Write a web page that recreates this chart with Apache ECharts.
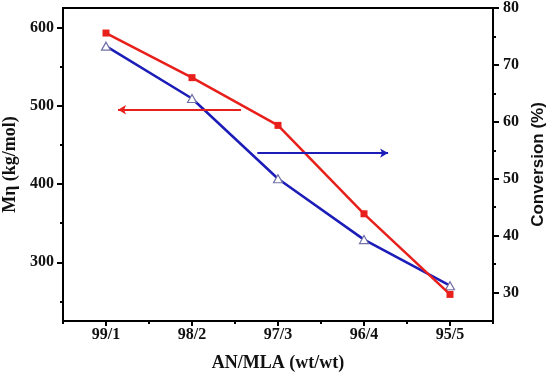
<!DOCTYPE html>
<html>
<head>
<meta charset="utf-8">
<script src="https://cdn.jsdelivr.net/npm/echarts@6/dist/echarts.min.js"></script>
<style>html,body{margin:0;padding:0;background:#fff;}#chart{width:550px;height:373px;}</style>
</head>
<body>
<div id="chart"></div>
<script>
// ---- data ----
const categories = ['99/1', '98/2', '97/3', '96/4', '95/5'];
const mnValues = [593, 536, 475, 362, 259];          // Mη (kg/mol), left axis
const conversionValues = [73.3, 64.1, 50.0, 39.3, 31.2]; // Conversion (%), right axis
const leftTicks = [300, 400, 500, 600];
const leftMinorTicks = [250, 350, 450, 550];
const rightTicks = [30, 40, 50, 60, 70, 80];
const rightMinorTicks = [35, 45, 55, 65, 75];
// annotation arrows (x in category units 1..5, y in axis units)
const mnArrow = { y: 495, fromX: 2.57, toX: 1.14 };
const convArrow = { y: 54.5, fromX: 2.76, toX: 4.28 };

const RED = '#e8201c';
const BLUE = '#1c1cb8';
const serif = '"Liberation Serif", "DejaVu Serif", serif';
const sans = '"Liberation Sans", Arial, sans-serif';
const gridRect = { left: 63, right: 57, top: 8, bottom: 52 };

const chart = echarts.init(document.getElementById('chart'));
chart.setOption({
  animation: false,
  backgroundColor: '#fff',
  grid: [
    Object.assign({ show: true, borderColor: '#000', borderWidth: 2, containLabel: false, outerBoundsMode: 'none' }, gridRect),
    Object.assign({ show: false, containLabel: false, outerBoundsMode: 'none' }, gridRect)
  ],
  xAxis: [
    {
      gridIndex: 0, type: 'category', data: categories, position: 'bottom', boundaryGap: true,
      axisLine: { show: true, lineStyle: { color: '#000', width: 2 } },
      axisTick: { show: true, alignWithLabel: true, length: 5, lineStyle: { color: '#000', width: 2 } },
      axisLabel: { color: '#111', fontFamily: serif, fontWeight: 'bold', fontSize: 16, margin: 6 },
      name: 'AN/MLA (wt/wt)', nameLocation: 'middle', nameGap: 33,
      nameTextStyle: { color: '#111', fontFamily: serif, fontWeight: 'bold', fontSize: 18 },
      splitLine: { show: false }
    },
    {
      gridIndex: 1, type: 'category', data: categories, position: 'bottom', boundaryGap: true,
      axisLine: { show: false },
      axisTick: { show: true, alignWithLabel: false, length: 3, lineStyle: { color: '#000', width: 2 } },
      axisLabel: { show: false }, splitLine: { show: false }
    },
    {
      gridIndex: 1, type: 'value', position: 'top', min: 0.5, max: 5.5, show: false
    }
  ],
  yAxis: [
    {
      gridIndex: 0, type: 'value', position: 'left', min: 225, max: 625,
      axisLine: { show: true, lineStyle: { color: '#000', width: 2 } },
      axisTick: { show: true, customValues: leftTicks, length: 6, lineStyle: { color: '#000', width: 2 } },
      axisLabel: { customValues: leftTicks, color: '#111', fontFamily: serif, fontWeight: 'bold', fontSize: 16, margin: 9 },
      splitLine: { show: false },
      name: 'Mη (kg/mol)', nameLocation: 'middle', nameGap: 37,
      nameTextStyle: { color: '#111', fontFamily: serif, fontWeight: 'bold', fontSize: 18 }
    },
    {
      gridIndex: 0, type: 'value', position: 'right', min: 25, max: 80,
      axisLine: { show: true, lineStyle: { color: '#000', width: 2 } },
      axisTick: { show: true, customValues: rightTicks, length: 6, lineStyle: { color: '#000', width: 2 } },
      axisLabel: { customValues: rightTicks, color: '#111', fontFamily: serif, fontWeight: 'bold', fontSize: 16, margin: 10 },
      splitLine: { show: false },
      name: 'Conversion (%)', nameLocation: 'middle', nameGap: 36,
      nameTextStyle: { color: '#111', fontFamily: sans, fontWeight: 'bold', fontSize: 17 }
    },
    {
      gridIndex: 1, type: 'value', position: 'left', min: 225, max: 625,
      axisLine: { show: false },
      axisTick: { show: true, customValues: leftMinorTicks, length: 3, lineStyle: { color: '#000', width: 2 } },
      axisLabel: { show: false }, splitLine: { show: false }
    },
    {
      gridIndex: 1, type: 'value', position: 'right', min: 25, max: 80,
      axisLine: { show: false },
      axisTick: { show: true, customValues: rightMinorTicks, length: 3, lineStyle: { color: '#000', width: 2 } },
      axisLabel: { show: false }, splitLine: { show: false }
    }
  ],
  series: [
    {
      name: 'Conversion', type: 'line', xAxisIndex: 0, yAxisIndex: 1, data: conversionValues,
      lineStyle: { color: BLUE, width: 2.5 },
      symbol: 'triangle', symbolSize: [9, 8],
      itemStyle: { color: '#fff', borderColor: '#7272a8', borderWidth: 1.2 },
      z: 2
    },
    {
      name: 'Mη', type: 'line', xAxisIndex: 0, yAxisIndex: 0, data: mnValues,
      lineStyle: { color: RED, width: 2.5 },
      symbol: 'rect', symbolSize: 7,
      itemStyle: { color: RED, borderWidth: 0 },
      z: 3
    },
    {
      name: 'mnArrow', type: 'line', xAxisIndex: 2, yAxisIndex: 2, data: [],
      markLine: {
        silent: true, animation: false, symbol: ['none', 'arrow'], symbolSize: [7, 8],
        label: { show: false },
        lineStyle: { color: RED, width: 2, type: 'solid' },
        data: [[{ coord: [mnArrow.fromX, mnArrow.y] }, { coord: [mnArrow.toX, mnArrow.y] }]]
      }
    },
    {
      name: 'convArrow', type: 'line', xAxisIndex: 2, yAxisIndex: 3, data: [],
      markLine: {
        silent: true, animation: false, symbol: ['none', 'arrow'], symbolSize: [7, 8],
        label: { show: false },
        lineStyle: { color: BLUE, width: 2, type: 'solid' },
        data: [[{ coord: [convArrow.fromX, convArrow.y] }, { coord: [convArrow.toX, convArrow.y] }]]
      }
    }
  ]
});
</script>
</body>
</html>
